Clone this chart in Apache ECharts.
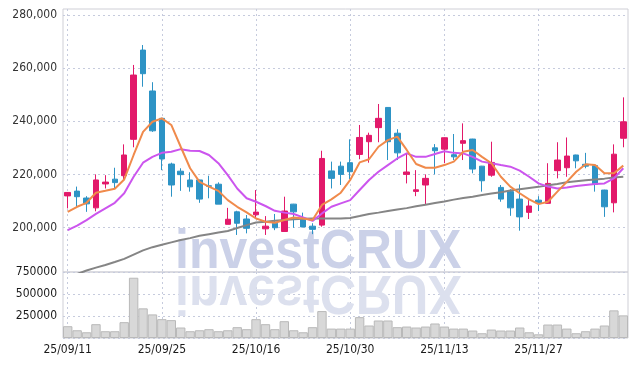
<!DOCTYPE html>
<html>
<head>
<meta charset="utf-8">
<script src="https://cdn.jsdelivr.net/npm/echarts@6/dist/echarts.min.js"></script>
<style>
  html, body { margin: 0; padding: 0; background: #fff; }
  #chart { width: 637px; height: 366px; }
</style>
</head>
<body>
<div id="chart"></div>
<script>
var dates = [
  '25/09/11', '25/09/12', '25/09/15', '25/09/16', '25/09/17', '25/09/18', '25/09/19', '25/09/22', '25/09/23', '25/09/24',
  '25/09/25', '25/09/26', '25/09/29', '25/09/30', '25/10/01', '25/10/02', '25/10/10', '25/10/13', '25/10/14', '25/10/15',
  '25/10/16', '25/10/17', '25/10/20', '25/10/21', '25/10/22', '25/10/23', '25/10/24', '25/10/27', '25/10/28', '25/10/29',
  '25/10/30', '25/10/31', '25/11/03', '25/11/04', '25/11/05', '25/11/06', '25/11/07', '25/11/10', '25/11/11', '25/11/12',
  '25/11/13', '25/11/14', '25/11/17', '25/11/18', '25/11/19', '25/11/20', '25/11/21', '25/11/24', '25/11/25', '25/11/26',
  '25/11/27', '25/11/28', '25/12/01', '25/12/02', '25/12/03', '25/12/04', '25/12/05', '25/12/08', '25/12/09', '25/12/10'
]

// [open, close, low, high]
var ohlc = [
  [211900, 213200, 207200, 213300], [213700, 211600, 207800, 215400], [211100, 208900, 205900, 211800],
  [207400, 217900, 206100, 220000], [216400, 217100, 214700, 219700], [218200, 216900, 214500, 222500],
  [219500, 227300, 217900, 231300], [233200, 257400, 230200, 261200], [266800, 257900, 253000, 268700],
  [251400, 236400, 236000, 254700], [241100, 225800, 221600, 241300], [223900, 216000, 211600, 224400],
  [221200, 219900, 213800, 222300], [217900, 215300, 213500, 220800], [217900, 210700, 209300, 218000],
  [215700, 215500, 211000, 219500], [216300, 208800, 208800, 217000], [201200, 203100, 201200, 207400],
  [205900, 201600, 197200, 206300], [203200, 199700, 197800, 204700], [204800, 205800, 203400, 214100],
  [199500, 200500, 197200, 204300], [201600, 199900, 199000, 205100], [198500, 206200, 198400, 211600],
  [208800, 205900, 199900, 208900], [203100, 200200, 200100, 205600], [200500, 199300, 197500, 201600],
  [200900, 226000, 200300, 228900], [221300, 218500, 214700, 224800], [223100, 220000, 216000, 224800],
  [224400, 221000, 218200, 233200], [227500, 233900, 225700, 238600], [232300, 234700, 224400, 235700],
  [237600, 241100, 232100, 246500], [245200, 232300, 225400, 245300], [235500, 228100, 225400, 237000],
  [220000, 220900, 216600, 228100], [213600, 214200, 211800, 221600], [216000, 218500, 208700, 220000],
  [230000, 228900, 220000, 231400], [229500, 233800, 224200, 233900], [227400, 226600, 225400, 235200],
  [231700, 232700, 225400, 239200], [233300, 222000, 220400, 233400], [223100, 217600, 213500, 223200],
  [219700, 224500, 219100, 232300], [215100, 210700, 209700, 216000], [213500, 207400, 204400, 214400],
  [210700, 204000, 198800, 216200], [205700, 208100, 203200, 210300], [210300, 209300, 206200, 211800],
  [209100, 216600, 209000, 224200], [221400, 225400, 218500, 232100], [222500, 226900, 219100, 233900],
  [227300, 225100, 222300, 227400], [223800, 223100, 222300, 228100], [223300, 216200, 213500, 223400],
  [214100, 207800, 204000, 214200], [209300, 227600, 205700, 231300], [233600, 239800, 230200, 249000]
]

var volumes = [
  134000, 88000, 65000, 157000, 77000, 77000, 180000, 685000, 337000, 268000,
  214000, 203000, 119000, 77000, 88000, 100000, 77000, 88000, 123000, 100000,
  214000, 157000, 100000, 191000, 88000, 65000, 123000, 306000, 107000, 107000,
  107000, 237000, 142000, 199000, 199000, 123000, 130000, 119000, 130000, 165000,
  130000, 107000, 107000, 85000, 54000, 96000, 85000, 85000, 119000, 65000,
  42000, 153000, 153000, 107000, 54000, 77000, 107000, 142000, 314000, 257000
]

var ma5 = [
  205900, 207800, 209300, 213100, 213800, 214600, 218100, 227300, 236000, 239800,
  241100, 238600, 230400, 222300, 217200, 215400, 213800, 210300, 207800, 205700,
  203400, 202200, 201800, 202800, 203800, 203400, 202800, 208500, 210600, 213100,
  217900, 224500, 225700, 230400, 232900, 234200, 229200, 223900, 222500, 222500,
  223500, 224800, 228500, 229200, 226600, 224200, 219100, 215400, 212900, 210600,
  208800, 209700, 213500, 217200, 221000, 223800, 223500, 220400, 220400, 223300
]

var ma20 = [
  199000, 200700, 202800, 205100, 207200, 209300, 212900, 219100, 224400, 226600,
  228100, 228500, 229500, 228900, 228800, 227300, 224200, 219700, 214700, 211000,
  209700, 208100, 206300, 205600, 205100, 203800, 202500, 205300, 207800, 209100,
  210300, 214100, 217900, 221000, 223500, 226000, 227900, 226600, 226600, 227700,
  228700, 228100, 227900, 226600, 224800, 224200, 223500, 222900, 221400, 219100,
  216600, 215400, 214700, 215100, 215600, 216000, 216400, 216600, 218500, 222300
]

var ma60 = [
  181300, 182500, 183800, 184900, 185900, 187000, 188200, 189800, 191400, 192600,
  193500, 194400, 195300, 196000, 196900, 197500, 198100, 198700, 199800, 200900,
  201900, 202200, 202500, 202800, 203100, 203300, 203400, 203400, 203400, 203400,
  203600, 204300, 205100, 205600, 206200, 206800, 207300, 208000, 208600, 209200,
  209800, 210500, 211100, 211600, 212200, 212800, 213300, 213900, 214400, 214900,
  215300, 215900, 216400, 217000, 217400, 217800, 218100, 218400, 218800, 219100
]

var priceTicks = [200000, 220000, 240000, 260000, 280000]

var upColor = '#e2196a'
var downColor = '#2d93c5'
var gridLineColor = '#c6cbdd'
var labelFont = 'DejaVu Sans Condensed'

var chart = echarts.init(document.getElementById('chart'))

var option = {
  animation: false,
  backgroundColor: '#fff',
  grid: [
    { left: 63, right: 9, top: 9, height: 263, show: true, borderColor: '#cfcfd6', borderWidth: 1 },
    { left: 63, right: 9, top: 272, height: 66, show: true, borderColor: '#cfcfd6', borderWidth: 1 }
  ],
  graphic: [
    {
      type: 'text',
      x: 175,
      y: 253,
      scaleX: 0.91,
      z: 1,
      silent: true,
      style: {
        text: 'investCRUX',
        font: 'bold 55px "Liberation Sans"',
        fill: '#cbd1e8',
        verticalAlign: 'middle'
      }
    },
    {
      // reflection under the watermark
      type: 'text',
      x: 175,
      y: 291,
      scaleX: 0.91,
      scaleY: -1,
      z: 1,
      silent: true,
      style: {
        text: 'investCRUX',
        font: 'bold 55px "Liberation Sans"',
        fill: '#dce0ee',
        verticalAlign: 'middle'
      }
    }
  ],
  xAxis: [
    {
      type: 'category',
      gridIndex: 0,
      data: dates,
      boundaryGap: true,
      axisLine: { show: false },
      axisTick: { show: false },
      axisLabel: { show: false },
      splitLine: {
        show: true,
        interval: 9,
        alignWithLabel: true,
        lineStyle: { color: gridLineColor, type: [2, 3], width: 1 }
      }
    },
    {
      type: 'category',
      gridIndex: 1,
      data: dates,
      boundaryGap: true,
      axisLine: { show: false },
      axisTick: { show: false },
      axisLabel: {
        interval: 9,
        margin: 6,
        color: '#1a1a1a',
        fontSize: 12,
        fontFamily: labelFont
      },
      splitLine: {
        show: true,
        interval: 9,
        alignWithLabel: true,
        lineStyle: { color: gridLineColor, type: [2, 3], width: 1 }
      }
    }
  ],
  yAxis: [
    {
      type: 'value',
      gridIndex: 0,
      min: 183250,
      max: 282260,
      axisLine: { show: false },
      axisTick: { show: false, customValues: priceTicks },
      axisLabel: {
        customValues: priceTicks,
        margin: 6,
        color: '#333',
        fontSize: 12,
        fontFamily: labelFont,
        formatter: function(v) {
          return v.toLocaleString('en-US')
        }
      },
      splitLine: { lineStyle: { color: gridLineColor, type: [2, 3], width: 1 } }
    },
    {
      type: 'value',
      gridIndex: 1,
      min: 0,
      max: 750000,
      interval: 250000,
      axisLine: { show: false },
      axisTick: { show: false },
      axisLabel: {
        showMinLabel: false,
        margin: 6,
        color: '#1a1a1a',
        fontSize: 12,
        fontFamily: labelFont,
        formatter: function(v) {
          return String(v)
        }
      },
      splitLine: { lineStyle: { color: gridLineColor, type: [2, 3], width: 1 } }
    }
  ],
  series: [
    {
      name: 'price',
      type: 'candlestick',
      xAxisIndex: 0,
      yAxisIndex: 0,
      barWidth: 6,
      data: ohlc,
      itemStyle: {
        color: upColor,
        color0: downColor,
        borderColor: upColor,
        borderColor0: downColor,
        borderWidth: 1
      }
    },
    {
      name: 'MA60',
      type: 'line',
      xAxisIndex: 0,
      yAxisIndex: 0,
      data: ma60,
      symbol: 'none',
      lineStyle: { color: '#858585', width: 2 }
    },
    {
      name: 'MA20',
      type: 'line',
      xAxisIndex: 0,
      yAxisIndex: 0,
      data: ma20,
      symbol: 'none',
      lineStyle: { color: '#cc55ee', width: 2 }
    },
    {
      name: 'MA5',
      type: 'line',
      xAxisIndex: 0,
      yAxisIndex: 0,
      data: ma5,
      symbol: 'none',
      lineStyle: { color: '#f08a4b', width: 2 }
    },
    {
      name: 'volume',
      type: 'bar',
      xAxisIndex: 1,
      yAxisIndex: 1,
      data: volumes,
      barCategoryGap: '0%',
      itemStyle: { color: '#d8d8d8', borderColor: '#b9b9b9', borderWidth: 1 }
    }
  ]
}

chart.setOption(option)
window.addEventListener('resize', function() {
  chart.resize()
})
</script>
</body>
</html>
